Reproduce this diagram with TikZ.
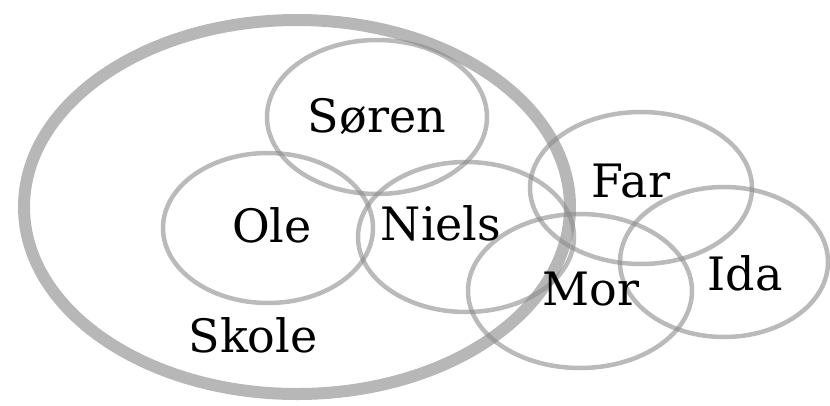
\documentclass[tikz,border=0pt]{standalone}
\usepackage{fontspec}
\setmainfont{DejaVu Serif}
\usepackage{tikz}

\tikzset{
	ring/.style={draw=black!45, draw opacity=0.6, line width=4.5pt},
	bigring/.style={draw=black!40, draw opacity=0.7, line width=12pt},
	person/.style={anchor=base, inner sep=0pt, font=\fontsize{46}{50}\selectfont}
}

\begin{document}
\begin{tikzpicture}[x=1pt,y=-1pt]
	
	\useasboundingbox (0,0) rectangle (830,405);
	
	% the school
	\draw[bigring] (297,207) ellipse (273 and 187);
	
	% the children and the family
	\draw[ring] (377,117) ellipse (110 and 77);
	\draw[ring] (268,228) ellipse (105 and 75);
	\draw[ring] (466,237) ellipse (108 and 75);
	\draw[ring] (641,188) ellipse (111 and 76);
	\draw[ring] (580,291) ellipse (112 and 77);
	\draw[ring] (724,262) ellipse (104 and 75);
	
	\node[person] (soren) at (377,132) {Søren};
	\node[person] (ole) at (272,242) {Ole};
	\node[person] (niels) at (441,240) {Niels};
	\node[person] (far) at (631,197) {Far};
	\node[person] (mor) at (591,305) {Mor};
	\node[person] (ida) at (745,290) {Ida};
	\node[person] (skole) at (253,352) {Skole};

\end{tikzpicture}
\end{document}
